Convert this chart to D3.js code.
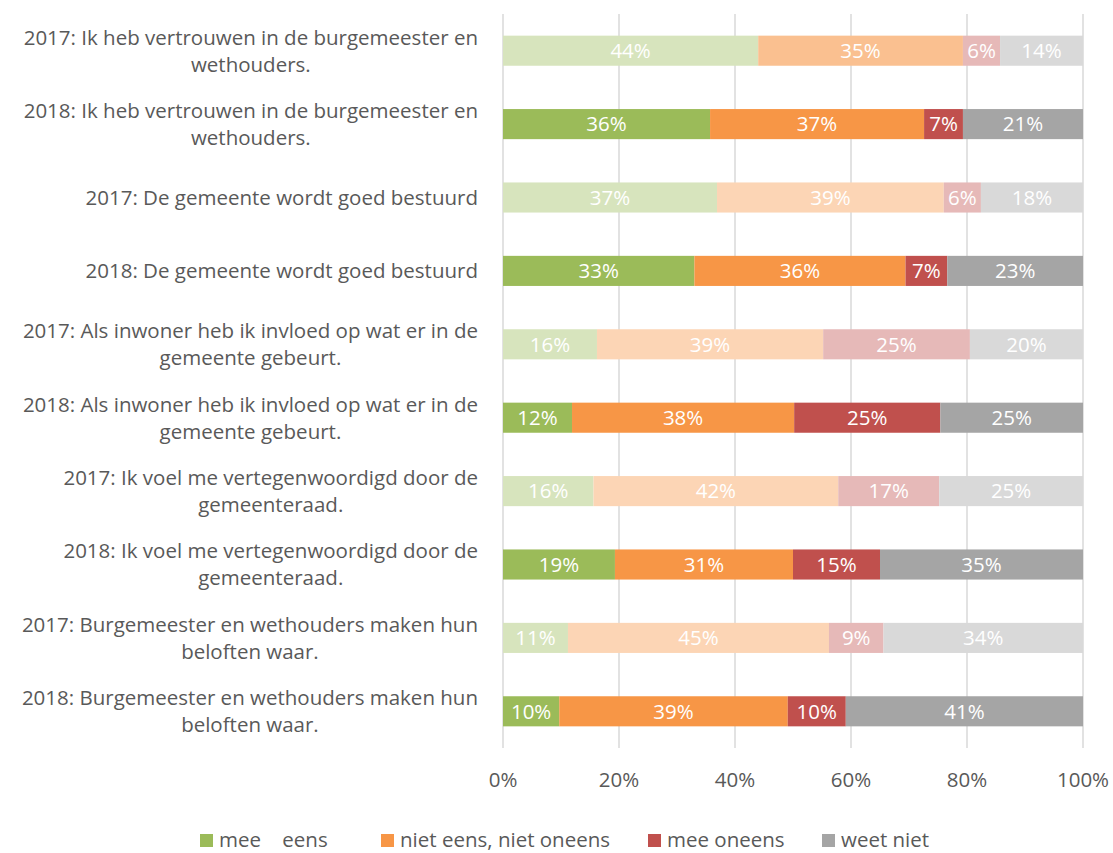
<!DOCTYPE html>
<html>
<head>
<meta charset="utf-8">
<script src="https://cdn.jsdelivr.net/npm/d3@7"></script>
<style>
  body { margin: 0; background: #fff; }
  svg { display: block; font-family: "Open Sans", "Liberation Sans", Arial, sans-serif; }
</style>
</head>
<body>
<svg id="chart" width="1113" height="853"></svg>
<script>
// category labels, "\n" marks where the original wraps
const categories = [
  "2017: Ik heb vertrouwen in de burgemeester en\nwethouders.",
  "2018: Ik heb vertrouwen in de burgemeester en\nwethouders.",
  "2017: De gemeente wordt goed bestuurd",
  "2018: De gemeente wordt goed bestuurd",
  "2017: Als inwoner heb ik invloed op wat er in de\ngemeente gebeurt.",
  "2018: Als inwoner heb ik invloed op wat er in de\ngemeente gebeurt.",
  "2017: Ik voel me vertegenwoordigd door de\ngemeenteraad.",
  "2018: Ik voel me vertegenwoordigd door de\ngemeenteraad.",
  "2017: Burgemeester en wethouders maken hun\nbeloften waar.",
  "2018: Burgemeester en wethouders maken hun\nbeloften waar."
];
const seriesNames = ["mee    eens", "niet eens, niet oneens", "mee oneens", "weet niet"];

const meeEens      = [44.0, 35.7, 36.9, 33.0, 16.2, 11.9, 15.6, 19.3, 11.2, 9.7];
const nietEens     = [35.3, 36.9, 39.1, 36.4, 39.0, 38.3, 42.2, 30.7, 45.0, 39.4];
const meeOneens    = [6.4, 6.7, 6.4, 7.2, 25.3, 25.2, 17.4, 15.0, 9.4, 10.0];
const weetNiet     = [14.3, 20.7, 17.6, 23.4, 19.5, 24.6, 24.8, 35.0, 34.4, 40.9];

const xTicks = [0, 20, 40, 60, 80, 100];

const colors2018 = ["#9BBB59", "#F79646", "#C0504D", "#A5A5A5"];
const colors2017 = ["#D7E4BD", "#FCD5B5", "#E6B9B8", "#D9D9D9"];

const svg = d3.select("#chart");
const plotLeft = 503, plotRight = 1083, plotTop = 14, plotBottom = 748;
const fs = "20.5px";

const x = d3.scaleLinear().domain([0, 100]).range([plotLeft, plotRight]);
const y = d3.scaleBand().domain(d3.range(categories.length)).range([plotTop, plotBottom]).paddingInner(0.59).paddingOuter(0.295);

const allSeries = [meeEens, nietEens, meeOneens, weetNiet];

// gridlines
svg.append("g").selectAll("line")
  .data(xTicks)
  .enter().append("line")
  .attr("x1", d => x(d)).attr("x2", d => x(d))
  .attr("y1", plotTop).attr("y2", plotBottom)
  .attr("stroke", "#D9D9D9").attr("stroke-width", 1.5);

// stacked segments
let segs = [];
categories.forEach((c, i) => {
  let acc = 0;
  allSeries.forEach((s, k) => {
    const is2017 = c.startsWith("2017");
    let fill = is2017 ? colors2017[k] : colors2018[k];
    if (i === 0 && k === 1) fill = "#FAC090";
    segs.push({ row: i, k: k, x0: acc, x1: acc + s[i], v: s[i], fill: fill });
    acc += s[i];
  });
});

const g = svg.append("g");
g.selectAll("rect")
  .data(segs)
  .enter().append("rect")
  .attr("x", d => x(d.x0))
  .attr("y", d => y(d.row))
  .attr("width", d => x(d.x1) - x(d.x0))
  .attr("height", y.bandwidth())
  .attr("fill", d => d.fill);

g.selectAll("text")
  .data(segs)
  .enter().append("text")
  .attr("x", d => (x(d.x0) + x(d.x1)) / 2)
  .attr("y", d => y(d.row) + y.bandwidth() / 2)
  .attr("dy", "0.36em")
  .attr("text-anchor", "middle")
  .attr("fill", "#fff")
  .attr("font-size", fs)
  .text(d => Math.round(d.v) + "%");

// category labels: block right-aligned, lines centred within block
const labG = svg.append("g");
categories.forEach((c, i) => {
  const lines = c.split("\n");
  const cy = y(i) + y.bandwidth() / 2;
  const t = labG.append("g");
  const texts = lines.map((l, j) => t.append("text")
    .attr("font-size", fs)
    .attr("fill", "#595959")
    .attr("text-anchor", "middle")
    .attr("y", cy + (j - (lines.length - 1) / 2) * 27)
    .attr("dy", "0.36em")
    .text(l));
  const maxW = d3.max(texts, s => s.node().getComputedTextLength());
  texts.forEach(s => s.attr("x", 478 - maxW / 2));
});

// x axis labels
svg.append("g").selectAll("text")
  .data(xTicks)
  .enter().append("text")
  .attr("x", d => x(d))
  .attr("y", 780)
  .attr("dy", "0.36em")
  .attr("text-anchor", "middle")
  .attr("fill", "#595959")
  .attr("font-size", fs)
  .text(d => d + "%");

// legend
const legX = [200, 381, 648, 822];
const leg = svg.append("g").selectAll("g")
  .data(seriesNames)
  .enter().append("g")
  .attr("transform", (d, i) => "translate(" + legX[i] + ",840)");
leg.append("rect")
  .attr("x", 0).attr("y", -6).attr("width", 13).attr("height", 13)
  .attr("fill", (d, i) => colors2018[i]);
leg.append("text")
  .attr("x", 19).attr("dy", "0.34em")
  .attr("fill", "#595959")
  .attr("font-size", fs)
  .attr("xml:space", "preserve")
  .style("white-space", "pre")
  .text(d => d);
</script>
</body>
</html>
